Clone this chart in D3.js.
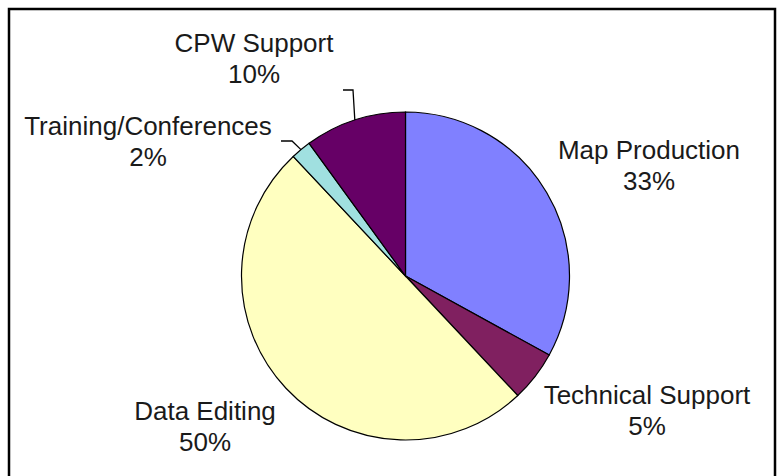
<!DOCTYPE html>
<html>
<head>
<meta charset="utf-8">
<script src="https://cdn.jsdelivr.net/npm/d3@7"></script>
<style>
  body { margin: 0; background: #fff; }
  text { font-family: "Liberation Sans", Arial, sans-serif; fill: #1a1a1a; }
</style>
</head>
<body>
<div id="chart"></div>
<script>
// Data
const categories = ["Map Production", "Technical Support", "Data Editing", "Training/Conferences", "CPW Support"];
const values = [33, 5, 50, 2, 10];
const colors = ["#8080FF", "#802060", "#FFFFC0", "#A0E0E0", "#660066"];

// Label placement (center x, first baseline y) per slice
const labelPos = [[649, 159], [647, 404], [205, 420], [148, 135], [254, 52]];

const W = 777, H = 476;
const cx = 405.5, cy = 276, radius = 164;

const svg = d3.select("#chart").append("svg")
  .attr("width", W)
  .attr("height", H);

// Frame
svg.append("path")
  .attr("d", "M9," + (H + 5) + " L9,9 L775,9 L775," + (H + 5))
  .attr("fill", "none")
  .attr("stroke", "#000")
  .attr("stroke-width", 2.5);

const pie = d3.pie().sort(null).value(d => d);
const arc = d3.arc().innerRadius(0).outerRadius(radius);
const arcs = pie(values);

const g = svg.append("g")
  .attr("transform", "translate(" + cx + "," + cy + ")");

g.selectAll("path.slice")
  .data(arcs).enter().append("path")
  .attr("class", "slice")
  .attr("d", arc)
  .attr("fill", (d, i) => colors[i])
  .attr("stroke", "#000")
  .attr("stroke-width", 1.2);

// Leader lines (for the small top slices)
function edgePoint(d) {
  const a = (d.startAngle + d.endAngle) / 2;
  return [cx + radius * Math.sin(a), cy - radius * Math.cos(a)];
}
const leaders = [
  [[281, 141], [292, 141], edgePoint(arcs[3])],
  [[343, 90], [353, 90], edgePoint(arcs[4])]
];
svg.selectAll("path.leader")
  .data(leaders).enter().append("path")
  .attr("class", "leader")
  .attr("d", d3.line())
  .attr("fill", "none")
  .attr("stroke", "#000")
  .attr("stroke-width", 1.3);

// Labels
const labels = svg.selectAll("text.lbl")
  .data(arcs).enter().append("text")
  .attr("class", "lbl")
  .attr("text-anchor", "middle")
  .style("font-size", "26px");
labels.append("tspan")
  .attr("x", (d, i) => labelPos[i][0])
  .attr("y", (d, i) => labelPos[i][1])
  .text((d, i) => categories[i]);
labels.append("tspan")
  .attr("x", (d, i) => labelPos[i][0])
  .attr("y", (d, i) => labelPos[i][1] + 31)
  .text(d => d.value + "%");
</script>
</body>
</html>
